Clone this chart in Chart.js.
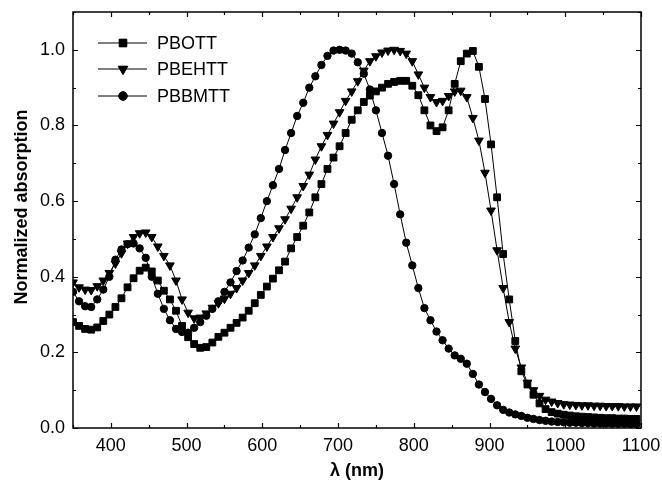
<!DOCTYPE html>
<html>
<head>
<meta charset="utf-8">
<script src="https://cdn.jsdelivr.net/npm/chart.js@4.4.1/dist/chart.umd.min.js"></script>
<style>
  html, body { margin: 0; padding: 0; background: #fff; }
  #wrap { width: 662px; height: 486px; }
</style>
</head>
<body>
<div id="wrap"><canvas id="absChart" width="662" height="486"></canvas></div>
<script>
// --- DATA ---
const wavelengths = [
  350, 358, 366, 374, 382, 390, 398, 406, 414, 422, 430, 438, 446, 454, 462, 470,
  478, 486, 494, 502, 510, 518, 526, 534, 542, 550, 558, 566, 574, 582, 590, 598,
  606, 614, 622, 630, 638, 646, 654, 662, 670, 678, 686, 694, 702, 710, 718, 726,
  734, 742, 750, 758, 766, 774, 782, 790, 798, 806, 814, 822, 830, 838, 846, 854,
  862, 870, 878, 886, 894, 902, 910, 918, 926, 934, 942, 950, 958, 966, 974, 982,
  990, 998, 1006, 1014, 1022, 1030, 1038, 1046, 1054, 1062, 1070, 1078, 1086, 1094
];

const pbott = [
  0.280, 0.270, 0.262, 0.260, 0.266, 0.283, 0.300, 0.320, 0.343, 0.372, 0.396, 0.416, 0.424, 0.414, 0.390, 0.363,
  0.340, 0.310, 0.270, 0.240, 0.222, 0.212, 0.214, 0.226, 0.241, 0.252, 0.265, 0.278, 0.292, 0.310, 0.330, 0.352,
  0.374, 0.395, 0.417, 0.440, 0.475, 0.505, 0.535, 0.570, 0.610, 0.645, 0.685, 0.715, 0.745, 0.780, 0.815, 0.840,
  0.862, 0.879, 0.890, 0.900, 0.910, 0.915, 0.918, 0.918, 0.905, 0.880, 0.840, 0.800, 0.785, 0.795, 0.840, 0.910,
  0.970, 0.990, 0.997, 0.955, 0.870, 0.750, 0.610, 0.460, 0.340, 0.230, 0.150, 0.115, 0.088, 0.065, 0.050, 0.042,
  0.038, 0.035, 0.033, 0.031, 0.030, 0.029, 0.028, 0.027, 0.026, 0.026, 0.025, 0.025, 0.024, 0.024
];

const pbehtt = [
  0.385, 0.372, 0.366, 0.365, 0.375, 0.390, 0.410, 0.435, 0.462, 0.488, 0.505, 0.515, 0.517, 0.505, 0.480, 0.455,
  0.430, 0.390, 0.340, 0.305, 0.290, 0.292, 0.303, 0.318, 0.330, 0.342, 0.355, 0.370, 0.390, 0.410, 0.430, 0.455,
  0.480, 0.505, 0.528, 0.552, 0.580, 0.610, 0.640, 0.670, 0.710, 0.745, 0.775, 0.805, 0.835, 0.865, 0.890, 0.917,
  0.945, 0.970, 0.983, 0.993, 0.998, 1.000, 0.997, 0.990, 0.970, 0.935, 0.900, 0.875, 0.862, 0.865, 0.878, 0.890,
  0.892, 0.875, 0.820, 0.760, 0.675, 0.575, 0.470, 0.370, 0.280, 0.210, 0.160, 0.120, 0.100, 0.085, 0.075, 0.070,
  0.066, 0.063, 0.062, 0.061, 0.060, 0.060, 0.059, 0.059, 0.058, 0.058, 0.058, 0.057, 0.057, 0.057
];

const pbbmtt = [
  0.360, 0.335, 0.322, 0.320, 0.340, 0.366, 0.400, 0.445, 0.472, 0.486, 0.488, 0.475, 0.450, 0.400, 0.355, 0.315,
  0.285, 0.262, 0.254, 0.252, 0.265, 0.280, 0.297, 0.315, 0.335, 0.360, 0.385, 0.415, 0.443, 0.477, 0.512, 0.555,
  0.600, 0.642, 0.685, 0.735, 0.780, 0.825, 0.860, 0.900, 0.930, 0.960, 0.984, 0.998, 1.000, 0.998, 0.990, 0.967,
  0.937, 0.895, 0.840, 0.780, 0.720, 0.645, 0.565, 0.490, 0.430, 0.370, 0.317, 0.285, 0.255, 0.232, 0.210, 0.192,
  0.183, 0.170, 0.143, 0.115, 0.095, 0.077, 0.060, 0.048, 0.041, 0.036, 0.032, 0.027, 0.024, 0.021, 0.019, 0.017,
  0.016, 0.015, 0.014, 0.014, 0.013, 0.013, 0.012, 0.012, 0.012, 0.011, 0.011, 0.011, 0.010, 0.010
];

const seriesNames = ['PBOTT', 'PBEHTT', 'PBBMTT'];
const yTitle = 'Normalized absorption';
const xTitle = 'λ (nm)';

const FONT = '"Liberation Sans", Arial, sans-serif';

function toPoints(values) {
  return values.map((v, i) => ({ x: wavelengths[i], y: v }));
}

function makeDataset(label, values, style, radius, rotation) {
  return {
    label: label,
    data: toPoints(values),
    borderColor: '#000',
    borderWidth: 1,
    backgroundColor: '#000',
    pointStyle: style,
    pointRadius: radius,
    pointRotation: rotation,
    pointBorderWidth: 1,
    pointBackgroundColor: '#000',
    pointBorderColor: '#000',
    tension: 0,
    clip: 0
  };
}

// --- frame, inward ticks on all four sides, y title and the legend ---
const framePlugin = {
  id: 'frame',
  afterDraw(chart) {
    const ctx = chart.ctx;
    const area = chart.chartArea;
    const xs = chart.scales.x;
    const ys = chart.scales.y;
    ctx.save();
    ctx.strokeStyle = '#000';
    ctx.lineWidth = 1.5;
    ctx.strokeRect(area.left, area.top, area.right - area.left, area.bottom - area.top);

    ctx.lineWidth = 1.2;
    ctx.beginPath();
    xs.ticks.forEach(t => {
      const px = Math.round(xs.getPixelForValue(t.value)) + 0.5;
      const len = Math.round(t.value) % 100 === 0 ? 5 : 3;
      ctx.moveTo(px, area.bottom); ctx.lineTo(px, area.bottom - len);
      ctx.moveTo(px, area.top); ctx.lineTo(px, area.top + len);
    });
    ys.ticks.forEach(t => {
      const py = Math.round(ys.getPixelForValue(t.value)) + 0.5;
      const len = Math.round(t.value * 10) % 2 === 0 ? 5 : 3;
      ctx.moveTo(area.left, py); ctx.lineTo(area.left + len, py);
      ctx.moveTo(area.right, py); ctx.lineTo(area.right - len, py);
    });
    ctx.stroke();

    // y title sits a bit above the middle of the axis in the original
    ctx.fillStyle = '#000';
    ctx.font = 'bold 18px ' + FONT;
    ctx.textAlign = 'center';
    ctx.textBaseline = 'middle';
    ctx.translate(22, 207);
    ctx.rotate(-Math.PI / 2);
    ctx.fillText(yTitle, 0, 0);
    ctx.setTransform(1, 0, 0, 1, 0, 0);

    // legend: line with marker, then name
    const rows = [43, 69, 96];
    const x0 = 98, x1 = 147, xm = 123;
    ctx.font = '18px ' + FONT;
    ctx.textAlign = 'left';
    chart.data.datasets.forEach((ds, i) => {
      const y = rows[i];
      ctx.lineWidth = 1;
      ctx.beginPath();
      ctx.moveTo(x0, y); ctx.lineTo(x1, y);
      ctx.stroke();
      Chart.helpers.drawPoint(ctx, {
        pointStyle: ds.pointStyle,
        radius: ds.pointRadius + 0.6,
        rotation: ds.pointRotation,
        borderWidth: 1
      }, xm, y);
      ctx.fill();
      ctx.fillText(ds.label, 157, y + 1);
    });
    ctx.restore();
  }
};

new Chart(document.getElementById('absChart'), {
  type: 'line',
  data: {
    datasets: [
      makeDataset(seriesNames[0], pbott, 'rect', 4.8, 0),
      makeDataset(seriesNames[1], pbehtt, 'triangle', 5, 180),
      makeDataset(seriesNames[2], pbbmtt, 'circle', 3.7, 0)
    ]
  },
  options: {
    responsive: false,
    animation: false,
    layout: { padding: { top: 12, right: 21, left: 0, bottom: 0 } },
    plugins: {
      legend: { display: false },
      tooltip: { enabled: false }
    },
    scales: {
      x: {
        type: 'linear',
        min: 350,
        max: 1100,
        afterFit: s => { s.height = 58; s.paddingLeft = 0; s.paddingRight = 0; },
        grid: { display: false, drawTicks: false },
        border: { display: false },
        ticks: {
          stepSize: 50,
          padding: 7,
          color: '#000',
          maxRotation: 0,
          autoSkip: false,
          font: { family: FONT, size: 18 },
          callback: v => (Math.round(v) % 100 === 0 ? String(v) : '')
        },
        title: {
          display: true,
          text: xTitle,
          color: '#000',
          font: { family: FONT, size: 18, weight: 'bold' },
          padding: { top: 0, bottom: 4 }
        }
      },
      y: {
        min: 0,
        max: 1.1,
        afterFit: s => { s.width = 73; s.paddingTop = 0; s.paddingBottom = 0; },
        grid: { display: false, drawTicks: false },
        border: { display: false },
        ticks: {
          stepSize: 0.1,
          padding: 8,
          color: '#000',
          autoSkip: false,
          font: { family: FONT, size: 18 },
          callback: v => (Math.round(v * 10) % 2 === 0 ? (Math.round(v * 10) / 10).toFixed(1) : '')
        },
        title: { display: false }
      }
    }
  },
  plugins: [framePlugin]
});
</script>
</body>
</html>
